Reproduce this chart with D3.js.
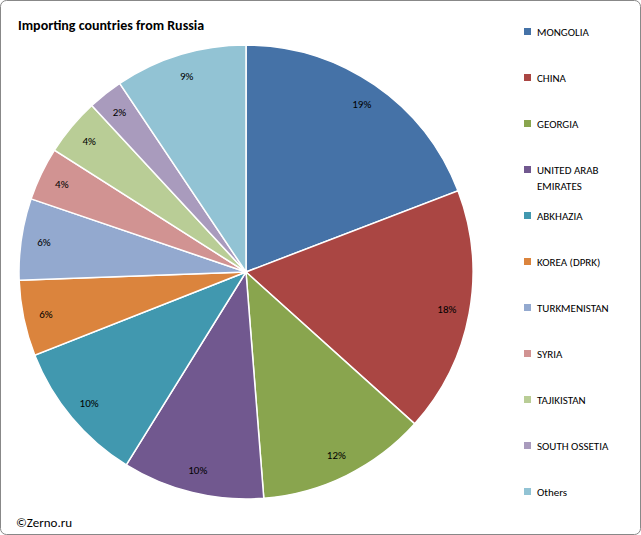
<!DOCTYPE html><html><head><meta charset="utf-8">
<script src="https://cdn.jsdelivr.net/npm/d3@7"></script>
<style>body{margin:0;background:#fff}svg{font-family:Calibri,Carlito,"Liberation Sans",Arial,sans-serif}</style>
</head><body><svg id="c" width="641" height="535"></svg>
<script>
const categories=["MONGOLIA","CHINA","GEORGIA","UNITED ARAB EMIRATES","ABKHAZIA","KOREA (DPRK)","TURKMENISTAN","SYRIA","TAJIKISTAN","SOUTH OSSETIA","Others"];
const values=[19.2,17.5,12.1,10.1,10.2,5.4,5.8,3.8,4.1,2.5,9.4];
const labels=["19%","18%","12%","10%","10%","6%","6%","4%","4%","2%","9%"];
const colors=["#4572A7","#AA4643","#89A54E","#71588F","#4198AF","#DB843D","#93A9CF","#D19392","#B9CD96","#A99BBD","#92C3D4"];
const svg=d3.select("#c");
svg.append("rect").attr("x",0.5).attr("y",0.5).attr("width",640).attr("height",534).attr("rx",6).attr("fill","#fff").attr("stroke","#888");
svg.append("text").attr("x",18).attr("y",30).attr("font-size",14).attr("font-weight","bold").text("Importing countries from Russia");
const cx=246,cy=272,r=227;
const pie=d3.pie().sort(null).value(d=>d)(values);
const arc=d3.arc().innerRadius(0).outerRadius(r);
const g=svg.append("g").attr("transform",`translate(${cx},${cy})`);
g.selectAll("path").data(pie).join("path").attr("d",arc).attr("fill",(d,i)=>colors[i]).attr("stroke","#fff").attr("stroke-width",1.5);
const la=d3.arc().innerRadius(r*0.9).outerRadius(r*0.9);
g.selectAll("text").data(pie).join("text").attr("transform",d=>`translate(${la.centroid(d)})`).attr("text-anchor","middle").attr("dy","0.35em").attr("font-size",11).attr("fill","#000").text((d,i)=>labels[i]);
const lg=svg.append("g");
categories.forEach((c,i)=>{
 const y=32+i*46;
 lg.append("rect").attr("x",524).attr("y",y-4).attr("width",7).attr("height",7).attr("fill",colors[i]);
 const t=lg.append("text").attr("x",537).attr("y",y).attr("dy","0.35em").attr("font-size",11);
 if(c==="UNITED ARAB EMIRATES"){t.append("tspan").attr("x",537).text("UNITED ARAB");t.append("tspan").attr("x",537).attr("dy","1.45em").text("EMIRATES");}
 else t.text(c);
});
svg.append("text").attr("x",16).attr("y",527).attr("font-size",13).text("©Zerno.ru");
</script></body></html>
